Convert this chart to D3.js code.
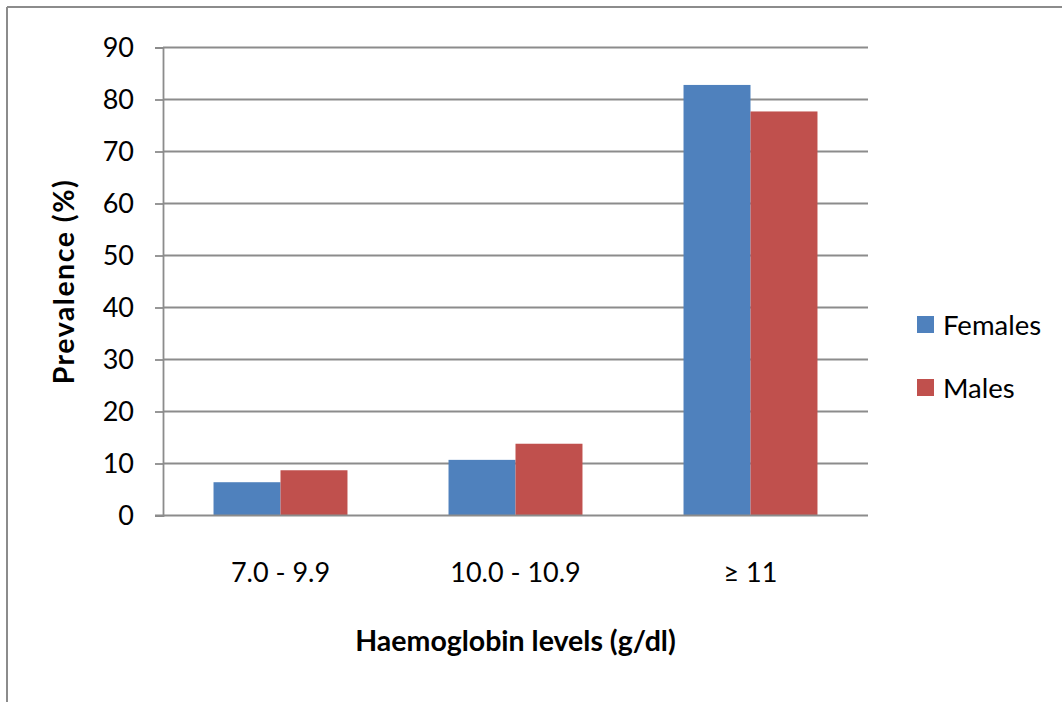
<!DOCTYPE html>
<html>
<head>
<meta charset="utf-8">
<script src="https://cdn.jsdelivr.net/npm/d3@7"></script>
<style>
  html, body { margin: 0; padding: 0; background: #fff; }
  svg { display: block; font-family: Lato, "Open Sans", sans-serif; }
</style>
</head>
<body>
<svg id="chart" width="1062" height="702"></svg>
<script>
const categories = ["7.0 - 9.9", "10.0 - 10.9", "\u2265 11"];
const seriesNames = ["Females", "Males"];
const females = [6.4, 10.7, 82.8];
const males = [8.7, 13.8, 77.7];
const yTicks = [0, 10, 20, 30, 40, 50, 60, 70, 80, 90];
const xTitle = "Haemoglobin levels (g/dl)";
const yTitle = "Prevalence (%)";

const colors = ["#4f81bd", "#c0504d"];
const gridColor = "#8c8c8c";

const svg = d3.select("#chart");
const W = 1062, H = 702;
const plot = { left: 163, right: 868, top: 47.5, bottom: 515.5 };

// outer frame (left and top edges visible)
svg.append("line").attr("x1", 7).attr("y1", 7).attr("x2", W + 5).attr("y2", 7)
  .attr("stroke", gridColor).attr("stroke-width", 2);
svg.append("line").attr("x1", 7).attr("y1", 7).attr("x2", 7).attr("y2", H + 5)
  .attr("stroke", gridColor).attr("stroke-width", 2);

const x = d3.scaleBand().domain(categories)
  .range([plot.left, plot.right]).paddingInner(0.43).paddingOuter(0.215);
const xs = d3.scaleBand().domain(seriesNames).range([0, x.bandwidth()]).padding(0);
const y = d3.scaleLinear().domain([0, 90]).range([plot.bottom, plot.top]);

// gridlines
svg.append("g").selectAll("line").data(yTicks.filter(d => d > 0)).join("line")
  .attr("x1", plot.left).attr("x2", plot.right)
  .attr("y1", d => y(d)).attr("y2", d => y(d))
  .attr("stroke", gridColor).attr("stroke-width", 1.8);

// y axis
const yAxis = svg.append("g").attr("transform", `translate(${plot.left},0)`)
  .call(d3.axisLeft(y).tickValues(yTicks).tickSize(8).tickPadding(21).tickFormat(d3.format("d")));
yAxis.select(".domain").attr("stroke", gridColor).attr("stroke-width", 1.8);
yAxis.selectAll(".tick line").attr("stroke", gridColor).attr("stroke-width", 1.8);
yAxis.selectAll(".tick text").attr("font-size", 27).attr("fill", "#000")
  .attr("font-family", "Lato, sans-serif");

// bars
const data = categories.map((c, i) => ({ cat: c, values: [females[i], males[i]] }));
const groups = svg.append("g").selectAll("g").data(data).join("g")
  .attr("transform", d => `translate(${x(d.cat)},0)`);
groups.selectAll("rect").data(d => d.values.map((v, j) => ({ s: seriesNames[j], v, j })))
  .join("rect")
  .attr("x", d => xs(d.s)).attr("width", xs.bandwidth())
  .attr("y", d => y(d.v)).attr("height", d => y(0) - y(d.v))
  .attr("fill", d => colors[d.j]);

// x axis
const xAxis = svg.append("g").attr("transform", `translate(0,${plot.bottom})`)
  .call(d3.axisBottom(x).tickSize(0).tickPadding(48));
xAxis.select(".domain").remove();
svg.append("line").attr("x1", plot.left - 8).attr("x2", plot.right)
  .attr("y1", plot.bottom).attr("y2", plot.bottom)
  .attr("stroke", gridColor).attr("stroke-width", 1.8);
xAxis.selectAll(".tick text").attr("font-size", 27).attr("fill", "#000")
  .attr("font-family", "Lato, sans-serif").attr("dy", null)
  .attr("dominant-baseline", "alphabetic").attr("y", 66.5);

// axis titles
svg.append("text").attr("x", (plot.left + plot.right) / 2).attr("y", 651)
  .attr("text-anchor", "middle").attr("font-size", 28.5).attr("font-weight", "bold")
  .text(xTitle);
svg.append("text")
  .attr("transform", `translate(74,${(plot.top + plot.bottom) / 2}) rotate(-90)`)
  .attr("text-anchor", "middle").attr("font-size", 28.5).attr("font-weight", "bold")
  .attr("letter-spacing", 1.5)
  .text(yTitle);

// legend
const legend = svg.append("g").selectAll("g").data(seriesNames).join("g")
  .attr("transform", (d, i) => `translate(917,${316 + i * 63})`);
legend.append("rect").attr("width", 17).attr("height", 17)
  .attr("fill", (d, i) => colors[i]);
legend.append("text").attr("x", 26).attr("y", 19).attr("font-size", 27.5)
  .attr("fill", "#000").text(d => d);
</script>
</body>
</html>
